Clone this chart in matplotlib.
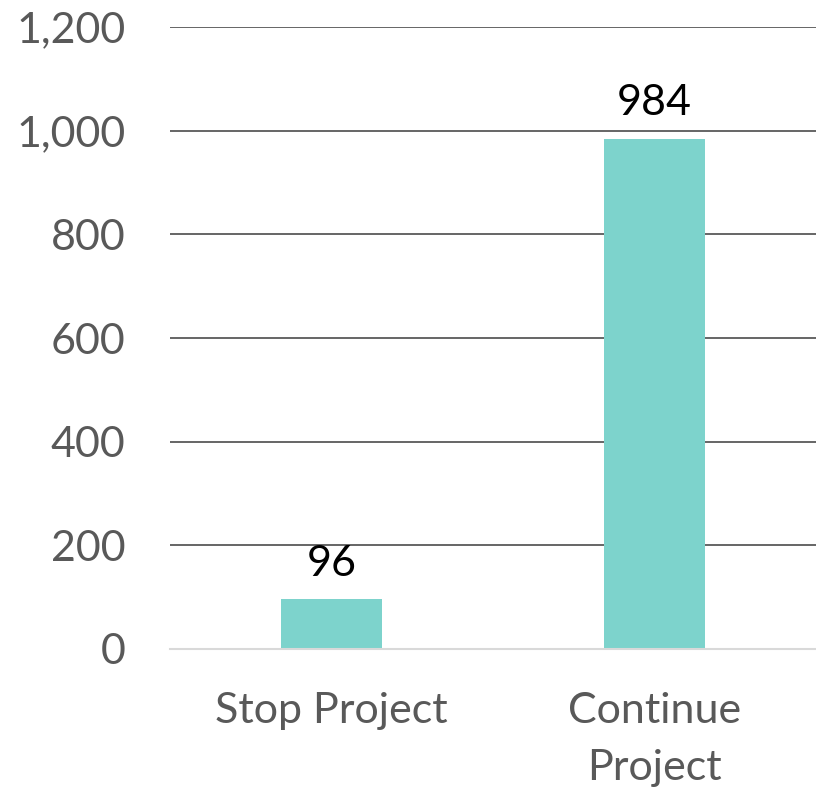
import matplotlib
matplotlib.use("Agg")
import matplotlib.pyplot as plt

categories = ["Stop Project", "Continue\nProject"]
values = [96, 984]
yticks = [0, 200, 400, 600, 800, 1000, 1200]

plt.rcParams['font.family'] = ['Lato', 'DejaVu Sans']

fig = plt.figure(figsize=(8.16, 7.93), dpi=100)
ax = fig.add_axes([170/816, 1-649/793, 1-170/816, (649-27)/793])

x = range(len(categories))
bars = ax.bar(x, values, width=0.31, color="#7DD3CC", zorder=3)
ax.set_xlim(-0.5, 1.5)
ax.set_ylim(0, 1200)
ax.set_yticks(yticks)
ax.set_yticklabels([f"{v:,}" for v in yticks])
ax.set_xticks(list(x))
ax.set_xticklabels(categories, linespacing=1.6, va="top")

for s in ["top", "right", "left"]:
    ax.spines[s].set_visible(False)
ax.spines["bottom"].set_color("#d9d9d9")
ax.spines["bottom"].set_linewidth(1.5)
ax.spines["bottom"].set_zorder(4)

ax.grid(axis="y", color="#595959", linewidth=1.3, zorder=0)
ax.tick_params(axis="both", length=0, labelsize=31, labelcolor="#595959")
ax.tick_params(axis="y", pad=32)
ax.tick_params(axis="x", pad=31)

for b, v in zip(bars, values):
    ax.annotate(f"{v}", (b.get_x() + b.get_width()/2, v), xytext=(0, 12),
                textcoords="offset points", ha="center", va="bottom",
                fontsize=31, color="black")

fig.savefig("out.png", dpi=100)
